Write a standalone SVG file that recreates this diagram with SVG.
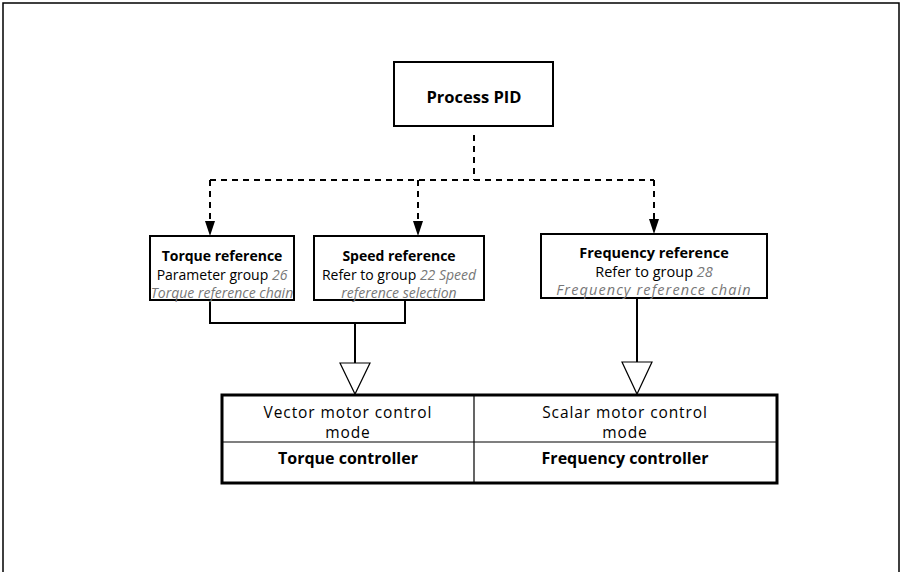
<svg xmlns="http://www.w3.org/2000/svg" width="902" height="572" viewBox="0 0 902 572">
<defs>
<style>
text{font-family:"Open Sans","Noto Sans","DejaVu Sans",sans-serif;fill:#000;text-anchor:middle}
.b{font-weight:bold}
.s{font-size:14px}
.f{font-size:14.5px}
.t{font-size:15.5px;letter-spacing:0.9px}
.tb{font-size:16px;font-weight:bold}
.g{font-style:italic;fill:#777}
.box{fill:#fff;stroke:#000;stroke-width:2}
.dash{fill:none;stroke:#000;stroke-width:2;stroke-dasharray:6 5}
.line{fill:none;stroke:#000;stroke-width:2}
.tri{fill:#fff;stroke:#000;stroke-width:1.2}
</style>
</defs>
<path d="M3,572 V3 H899 V572" fill="none" stroke="#000" stroke-width="1.5"/>
<g id="connectors">
<path class="dash" d="M474,135 V180"/>
<path class="dash" d="M210,180 H654"/>
<path class="dash" d="M210,180 V221"/>
<path class="dash" d="M418,180 V221"/>
<path class="dash" d="M654,180 V219"/>
<path d="M205,221 H215 L210,236 Z"/>
<path d="M413,221 H423 L418,236 Z"/>
<path d="M649,219 H659 L654,234 Z"/>
<path class="line" d="M210,300 V323 H405 V300"/>
<path class="line" d="M355,323 V363"/>
<path class="tri" d="M340,363 H370 L355,394 Z"/>
<path class="line" d="M637,298 V362"/>
<path class="tri" d="M622,362 H652 L637,394 Z"/>
</g>
<g id="process-pid">
<rect class="box" x="394" y="62" width="159" height="64"/>
<text class="b" x="474" y="103" font-size="16.5">Process PID</text>
</g>
<g id="torque-reference">
<rect class="box" x="150" y="236" width="144" height="64"/>
<text class="s b" x="222" y="261">Torque reference</text>
<text class="s" x="222" y="280">Parameter group <tspan class="g">26</tspan></text>
<text class="s g" x="222" y="298">Torque reference chain</text>
</g>
<g id="speed-reference">
<rect class="box" x="314" y="236" width="170" height="64"/>
<text class="s b" x="399" y="261">Speed reference</text>
<text class="s" x="399" y="280">Refer to group <tspan class="g">22 Speed</tspan></text>
<text class="s g" x="399" y="298">reference selection</text>
</g>
<g id="frequency-reference">
<rect class="box" x="541" y="234" width="226" height="64"/>
<text class="f b" x="654" y="257.5" font-size="15">Frequency reference</text>
<text class="f" x="654" y="276.5">Refer to group <tspan class="g">28</tspan></text>
<text class="f g" x="654" y="295" letter-spacing="1.1">Frequency reference chain</text>
</g>
<g id="controllers">
<rect x="222" y="395" width="555" height="88" fill="#fff" stroke="#000" stroke-width="3"/>
<path d="M474,395 V483 M222,442 H777" stroke="#000" stroke-width="1.2"/>
<text class="t" x="348" y="417.5">Vector motor control</text>
<text class="t" x="348" y="437.5">mode</text>
<text class="tb" x="348" y="464">Torque controller</text>
<text class="t" x="625" y="417.5">Scalar motor control</text>
<text class="t" x="625" y="437.5">mode</text>
<text class="tb" x="625" y="464">Frequency controller</text>
</g>
</svg>
